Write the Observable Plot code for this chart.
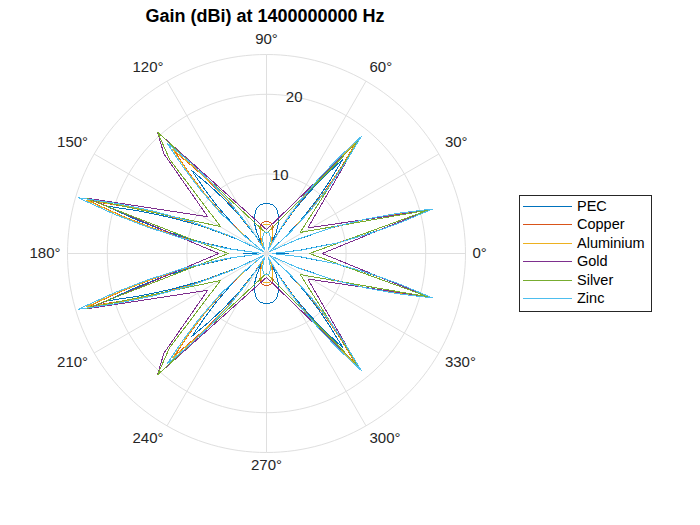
<!DOCTYPE html>
<html><head><meta charset="utf-8">
<script src="https://cdn.jsdelivr.net/npm/d3@7"></script>
<script src="https://cdn.jsdelivr.net/npm/@observablehq/plot@0.6"></script>
<style>
body{margin:0;background:#fff;font-family:"Liberation Sans",Arial,sans-serif;}
#wrap{position:relative;width:700px;height:525px;overflow:hidden;}
#title{position:absolute;left:0;width:530px;top:6px;text-align:center;font-weight:bold;font-size:18px;line-height:20px;color:#000;}
#legend{position:absolute;left:519px;top:195px;}
</style></head><body>
<div id="wrap"><div id="chart"></div><div id="title">Gain (dBi) at 1400000000 Hz</div><div id="legend"></div></div>
<script>
// ---- data (upper half, 0..180 deg; pattern is mirrored about the 0-180 axis) ----
const materials = ["PEC", "Copper", "Aluminium", "Gold", "Silver", "Zinc"];
const colors = ["#0072BD", "#D95319", "#EDB120", "#7E2F8E", "#77AC30", "#4DBEEE"];

const pecAngles = [0, 2.5, 5.5, 8.5, 11, 13, 15, 17, 19, 21.5, 24.5, 27.5, 33,
  38.5, 41.5, 44.5, 47, 49, 51, 53, 55, 57.5, 60.5, 63.5,
  65.5, 68.2, 72.5, 77.5, 83, 90, 97, 102.5, 107.5, 111.8, 114.5, 116.5,
  122.5, 125.5, 128, 130, 132, 134, 136, 138.5, 141.5, 144.5, 147.5,
  151, 154, 157, 159.5, 161.5, 163.5, 165.5, 167.5, 170, 173, 176, 180];
const pecGain = [2.8, 1.0, 4.2, 8.9, 13.1, 17.0, 21.2, 17.0, 13.1, 8.9, 4.2, 1.0, 0.5,
  1.0, 3.1, 6.4, 9.5, 12.2, 15.3, 12.2, 9.5, 6.4, 3.1, 1.5,
  3.0, 4.06, 5.0, 5.8, 6.2, 6.3, 6.2, 5.8, 5.0, 4.06, 3.0, 1.5,
  2.8, 5.9, 8.7, 11.2, 14.0, 11.2, 8.7, 5.9, 2.8, 1.0, 0.5,
  1.0, 4.2, 8.8, 13.0, 16.8, 21.0, 16.8, 13.0, 8.8, 4.2, 1.0, 2.9];

const innerAngles = [0, 2.5, 5.5, 8.5, 11, 13, 15, 17, 19, 21.5, 24.5, 27.5, 33,
  38.5, 41.5, 44.5, 47, 49, 51, 53, 55, 57.5, 60.5, 63.5,
  66, 70, 76, 82, 90, 98, 104, 110, 114, 117,
  119.5, 122.5, 125.5, 128, 130, 132, 134, 136, 138.5, 141.5, 144.5, 147.5,
  151, 154, 157, 159.5, 161.5, 163.5, 165.5, 167.5, 170, 173, 176, 180];

const copperGain = [0.8, 1.0, 4.3, 8.9, 13.2, 17.0, 21.3, 17.0, 13.2, 8.9, 4.3, 1.0, 0.5,
  1.0, 3.5, 7.4, 10.9, 14.1, 17.6, 14.1, 10.9, 7.4, 3.5, 1.0,
  1.6, 2.3, 3.4, 3.95, 4.0, 3.95, 3.4, 2.3, 1.6, 1.0,
  0.8, 3.4, 7.2, 10.7, 13.8, 17.2, 13.8, 10.7, 7.2, 3.4, 1.0, 0.5,
  1.0, 4.7, 9.8, 14.4, 18.6, 23.3, 18.6, 14.4, 9.8, 4.7, 1.0, 0.8];

const aluminiumGain = [0.7, 1.0, 4.3, 9.0, 13.3, 17.1, 21.4, 17.1, 13.3, 9.0, 4.3, 1.0, 0.5,
  1.0, 3.6, 7.6, 11.2, 14.4, 18.0, 14.4, 11.2, 7.6, 3.6, 0.9,
  1.4, 2.0, 3.0, 3.6, 3.7, 3.6, 3.0, 2.0, 1.4, 0.9,
  0.8, 3.5, 7.4, 10.9, 14.1, 17.6, 14.1, 10.9, 7.4, 3.5, 1.0, 0.5,
  1.0, 4.7, 9.9, 14.6, 18.9, 23.6, 18.9, 14.6, 9.9, 4.7, 1.0, 0.7];

const zincGain = [0.8, 1.0, 4.3, 9.1, 13.4, 17.3, 21.6, 17.3, 13.4, 9.1, 4.3, 1.0, 0.5,
  1.0, 3.8, 7.9, 11.7, 15.1, 18.9, 15.1, 11.7, 7.9, 3.8, 0.8,
  0.6, 1.2, 2.0, 2.6, 2.7, 2.6, 2.0, 1.2, 0.6, 0.5,
  0.8, 3.7, 7.9, 11.6, 15.0, 18.7, 15.0, 11.6, 7.9, 3.7, 1.0, 0.5,
  1.0, 4.9, 10.4, 15.3, 19.8, 24.7, 19.8, 15.3, 10.4, 4.9, 1.0, 0.8];

const goldAngles = [0, 15, 31.7, 50.8, 90, 131.9, 135.8, 148, 162.8, 180];
const goldGain   = [7.0, 21.0, 6.1, 18.2, 3.0, 20.5, 18.0, 8.7, 23.4, 6.0];

const silverAngles = [0, 15, 32, 50.8, 90, 131.9, 135.8, 149.6, 163, 180];
const silverGain   = [5.4, 21.1, 5.0, 18.3, 2.5, 20.5, 17.0, 6.7, 23.6, 4.8];

const angleTicks = [0, 30, 60, 90, 120, 150, 180, 210, 240, 270, 300, 330];
const ringTicks = [10, 20];
const rMax = 25;

// ---- build ----
const seriesAngles = [pecAngles, innerAngles, innerAngles, goldAngles, silverAngles, innerAngles];
const seriesGain = [pecGain, copperGain, aluminiumGain, goldGain, silverGain, zincGain];
const rad = Math.PI / 180;
const polar = (a, r) => ({x: r * Math.cos(a * rad), y: r * Math.sin(a * rad)});

function fullSeries(A, G) {
  const pts = [];
  for (let j = 0; j < A.length; j++) pts.push([A[j], G[j]]);
  for (let j = A.length - 2; j >= 1; j--) pts.push([360 - A[j], G[j]]);
  pts.push([A[0], G[0]]);
  return pts.map(([a, g]) => polar(a, Math.max(g, 0)));
}

const cx = 266, cy = 253, W = 700, H = 525, Rpx = 199;
const k = Rpx / rMax; // px per dB

const rings = [...ringTicks, rMax].map(r => ({r, pts: d3.range(0, 361, 2).map(a => polar(a, r))}));
const gridColor = "#dfdfdf";

const marks = [];
rings.forEach(ring => marks.push(Plot.line(ring.pts, {x: "x", y: "y", stroke: gridColor, strokeWidth: 1})));
marks.push(Plot.link(angleTicks, {x1: 0, y1: 0, x2: a => polar(a, rMax).x, y2: a => polar(a, rMax).y, stroke: gridColor, strokeWidth: 1}));

materials.forEach((m, i) => {
  marks.push(Plot.line(fullSeries(seriesAngles[i], seriesGain[i]), {x: "x", y: "y", stroke: colors[i], strokeWidth: 1, curve: "linear", shapeRendering: "crispEdges"}));
});

// angle labels
const gap = 7 / k;
const groups = {};
angleTicks.forEach(a => {
  const c = Math.cos(a * rad), s = Math.sin(a * rad);
  const ta = c > 0.1 ? "start" : c < -0.1 ? "end" : "middle";
  const la = s > 0.1 ? "bottom" : s < -0.1 ? "top" : "middle";
  const key = ta + "|" + la;
  (groups[key] = groups[key] || []).push(a);
});
Object.entries(groups).forEach(([key, arr]) => {
  const [ta, la] = key.split("|");
  marks.push(Plot.text(arr, {
    x: a => polar(a, rMax + gap).x, y: a => polar(a, rMax + gap).y,
    text: a => a + "°", textAnchor: ta, lineAnchor: la,
    dy: la === "bottom" ? -3.5 : 0, fill: "#262626", fontSize: 15
  }));
});
marks.push(Plot.text(ringTicks, {x: r => polar(80, r).x, y: r => polar(80, r).y, text: r => String(r), fill: "#262626", fontSize: 15}));

const chart = Plot.plot({
  width: W, height: H, margin: 0,
  x: {domain: [-cx / k, (W - cx) / k], range: [0, W], axis: null},
  y: {domain: [-(H - cy) / k, cy / k], range: [H, 0], axis: null},
  style: {fontFamily: '"Liberation Sans", Arial, sans-serif', fontSize: "15px", background: "white", overflow: "visible"},
  marks
});
document.getElementById("chart").appendChild(chart);

// legend
const lw = 133, lh = 117;
const lsvg = d3.select("#legend").append("svg").attr("width", lw).attr("height", lh);
lsvg.append("rect").attr("x", 0.5).attr("y", 0.5).attr("width", lw - 1).attr("height", lh - 1).attr("fill", "white").attr("stroke", "#262626");
materials.forEach((m, i) => {
  const yy = 10.7 + i * 18.5;
  lsvg.append("line").attr("x1", 4).attr("x2", 53).attr("y1", Math.round(yy) + 0.5).attr("y2", Math.round(yy) + 0.5).attr("stroke", colors[i]).attr("stroke-width", 1);
  lsvg.append("text").attr("x", 58).attr("y", yy).attr("dy", "0.35em").attr("font-size", "14.5px")
    .attr("font-family", '"Liberation Sans", Arial, sans-serif').attr("fill", "#000").text(m);
});
</script>
</body></html>
